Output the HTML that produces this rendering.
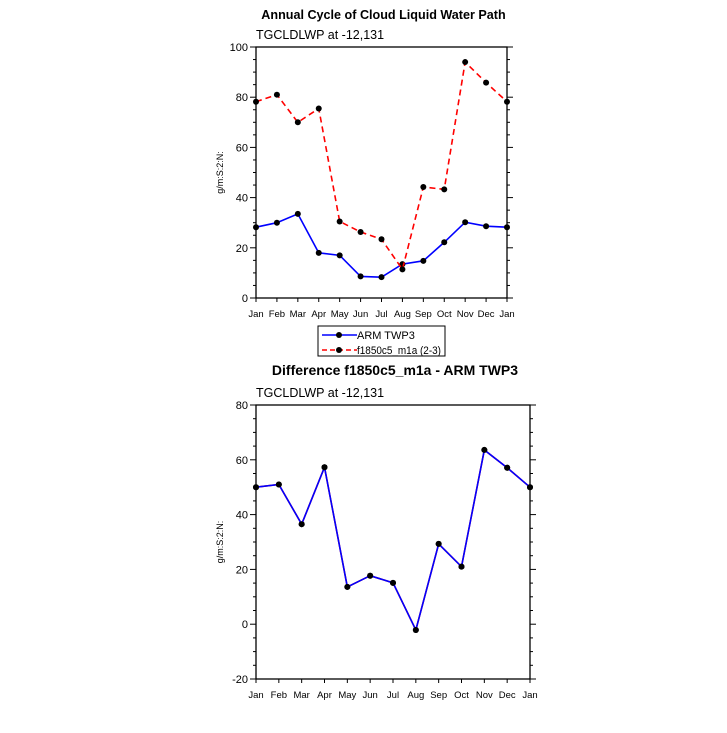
<!DOCTYPE html>
<html><head><meta charset="utf-8"><style>
body{margin:0;background:#fff;}
svg text{font-family:"Liberation Sans",Arial,sans-serif;}
</style></head><body>
<svg id="c" width="727" height="728" xmlns="http://www.w3.org/2000/svg"></svg>
<script>
const months=["Jan","Feb","Mar","Apr","May","Jun","Jul","Aug","Sep","Oct","Nov","Dec","Jan"];
const armValues=[28.2,30,33.5,18,17,8.6,8.3,13.5,14.8,22.2,30.2,28.6,28.2];
const modelValues=[78.2,81,70,75.5,30.5,26.3,23.4,11.4,44.2,43.3,94,85.8,78.2];
const diffValues=[50,51,36.5,57.3,13.6,17.7,15.1,-2.1,29.3,21,63.6,57.1,50];
const topTicks=[0,20,40,60,80,100];
const botTicks=[-20,0,20,40,60,80];
const NS="http://www.w3.org/2000/svg";
const svg=document.getElementById('c');
function mk(t,a,p){const e=document.createElementNS(NS,t);for(const k in a)e.setAttribute(k,a[k]);(p||svg).appendChild(e);return e;}
function panel(name,x0,x1,y0,y1,vmin,vmax,ticks,series,title,ttlY,ttlSize){
  const g=mk('g',{});
  
  
  const sx=i=>x0+(x1-x0)*i/(months.length-1);
  const sy=v=>y1-(y1-y0)*(v-vmin)/(vmax-vmin);
  const t=mk('text',{x:(x0+x1)/2+2,y:ttlY,'text-anchor':'middle','font-size':ttlSize,'font-weight':'bold'},g);t.textContent=title;
  
  
  const st=mk('text',{x:x0,y:y0-8,'font-size':12.5},g);st.textContent="TGCLDLWP at -12,131";
  
  
  const step=ticks[1]-ticks[0];
  for(let v=vmin;v<=vmax+1e-9;v+=step/4){
    const y=sy(v);const maj=Math.abs((v-ticks[0])%step)<1e-6;
    const l=maj?6:3;
    mk('line',{x1:x0-l,x2:x0,y1:y,y2:y,stroke:'#000','stroke-width':1},g);
    mk('line',{x1:x1,x2:x1+l,y1:y,y2:y,stroke:'#000','stroke-width':1},g);
  }
  ticks.forEach(v=>{const tt=mk('text',{x:x0-8,y:sy(v)+4,'text-anchor':'end','font-size':11},g);tt.textContent=v;
    
    });
  months.forEach((m,i)=>{const x=sx(i);
    mk('line',{x1:x,x2:x,y1:y1,y2:y1+4,stroke:'#000'},g);
    const tt=mk('text',{x:x,y:y1+19,'text-anchor':'middle','font-size':9.5},g);tt.textContent=m;
    
    });
  const yl=mk('text',{x:0,y:0,'font-size':9,'text-anchor':'middle',transform:`translate(${x0-33},${(y0+y1)/2}) rotate(-90)`},g);yl.textContent="g/m:S:2:N:";
  
  
  series.forEach(s=>{
    const pl=mk('polyline',{points:s.v.map((v,i)=>sx(i)+','+sy(v)).join(' '),fill:'none',stroke:s.c,'stroke-width':1.6,'stroke-dasharray':s.d||''},g);
    
    
    s.v.forEach((v,i)=>{const c=mk('circle',{cx:sx(i),cy:sy(v),r:3,fill:'#000'},g);
      
      });
  });
  mk('rect',{x:x0,y:y0,width:x1-x0,height:y1-y0,fill:'none',stroke:'#000','stroke-width':1.3},g);
}
panel('top-panel',256,507,47,298,0,100,topTicks,[
  {v:armValues,c:'#0000ff',n:'arm-twp3-line'},
  {v:modelValues,c:'#ff0000',d:'6,4',n:'f1850c5-line'}],"Annual Cycle of Cloud Liquid Water Path",19,12.6);
panel('bottom-panel',256,530,405,679,-20,80,botTicks,[
  {v:diffValues,c:'#ff0000',n:'diff-line-red'},
  {v:diffValues,c:'#0000ff',n:'diff-line'}],"Difference f1850c5_m1a - ARM TWP3",375,14);
const lg=mk('g',{});


mk('rect',{x:318,y:326,width:127,height:30,fill:'#fff',stroke:'#000','stroke-width':1},lg);
mk('line',{x1:322,x2:357,y1:335,y2:335,stroke:'#0000ff','stroke-width':1.6},lg);
mk('circle',{cx:339,cy:335,r:3,fill:'#000'},lg);
let t1=mk('text',{x:357,y:339,'font-size':11},lg);t1.textContent="ARM TWP3";


mk('line',{x1:322,x2:357,y1:350,y2:350,stroke:'#ff0000','stroke-width':1.6,'stroke-dasharray':'5,3'},lg);
mk('circle',{cx:339,cy:350,r:3,fill:'#000'},lg);
let t2=mk('text',{x:357,y:354,'font-size':11,textLength:84,lengthAdjust:'spacingAndGlyphs'},lg);t2.textContent="f1850c5_m1a (2-3)";


</script>
</body></html>
